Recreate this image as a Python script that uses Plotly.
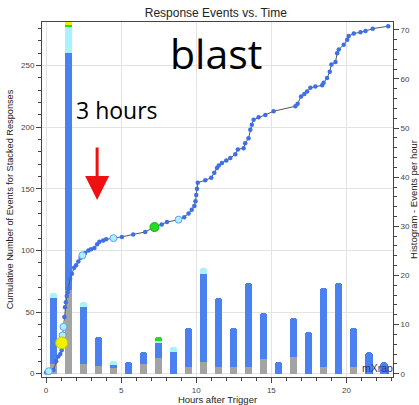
import plotly.graph_objects as go

# ---- histogram (events per hour), bar centres in hours after trigger
bar_hours = [0.5, 1.5, 2.5, 3.5, 4.5, 5.5, 6.5, 7.5, 8.5, 9.5, 10.5, 11.5,
             12.5, 13.5, 14.5, 15.5, 16.5, 17.5, 18.5, 19.5, 20.5, 21.5, 22.5]
gray_vals = [2, 17, 2, 1.5, 1.1, None, 2, 3.3, None, 1.4, 2.3, 1.4,
             1.4, 1.4, 2.9, None, 3.5, None, 1.4, None, 1.4, None, None]
blue_vals = [13.5, 48.3, 11.5, 6, 0.7, 2.4, 2.5, 3, 4.4, 8, 18, 14,
             8, 17, 9.4, 2.3, 7.9, 8.4, 16, 18.4, 8, 4.4, 2.3]
cyan_vals = [1, 5.3, 1, None, 0.8, None, None, 0.3, 1, None, 1.2, None,
             None, None, None, None, None, None, None, None, None, None, None]
green_vals = [None, 0.4, None, None, None, None, None, 0.8, None, None, None, None,
              None, None, None, None, None, None, None, None, None, None, None]
yellow_vals = [None, 0.8, None, None, None, None, None, None, None, None, None, None,
               None, None, None, None, None, None, None, None, None, None, None]

# ---- cumulative number of events
cum_hours = [0.0, 0.18, 0.49, 0.67, 0.82, 0.95, 1.04, 1.1, 1.16, 1.22, 1.26, 1.32,
             1.38, 1.44, 1.49, 1.6, 1.72, 1.87, 2.0, 2.15, 2.3, 2.42, 2.6, 2.82,
             3.0, 3.22, 3.4, 3.55, 3.8, 4.0, 4.49, 5.05, 5.8, 6.6, 7.22, 7.7,
             8.05, 8.82, 9.2, 9.49, 9.7, 9.87, 9.95, 10.0, 10.05, 10.1, 10.6, 11.0,
             11.2, 11.38, 11.5, 11.71, 12.0, 12.27, 12.6, 12.77, 13.15, 13.26, 13.48, 13.6,
             13.7, 13.82, 14.15, 14.6, 15.15, 16.6, 16.75, 16.98, 17.2, 17.38, 17.6, 17.93,
             18.38, 18.48, 18.71, 18.89, 19.0, 19.27, 19.38, 19.49, 19.82, 20.05, 20.15, 20.49,
             20.93, 21.27, 21.75, 22.78]
cum_counts = [1, 2, 3, 10, 14, 16, 19, 31, 38, 46, 54, 58,
              63, 66, 69, 77, 81, 86, 88, 91, 94, 96, 98, 100,
              101, 102, 105, 107, 108, 109, 110, 111, 113, 115, 119, 121,
              123, 125, 127, 130, 133, 136, 140, 145, 150, 155, 157, 159,
              163, 167, 169, 171, 173, 175, 178, 182, 183, 187, 191, 198,
              202, 206, 208, 210, 213, 217, 219, 225, 227, 229, 232, 233,
              234, 236, 240, 245, 251, 253, 260, 263, 267, 271, 274, 276,
              277, 278, 280, 282]

cyan_hours = [0.18, 1.1, 1.16, 2.42, 4.49, 8.82]
cyan_counts = [2, 31, 38, 96, 110, 125]
green_hours = [7.22]
green_counts = [119]
yellow_hours = [1.04]
yellow_counts = [25]

fig = go.Figure()

for vals, col in [(gray_vals, "#a3a3a3"), (blue_vals, "#4a80f0"), (cyan_vals, "#a8f2fb"),
                  (green_vals, "#22dd22"), (yellow_vals, "#f2f200")]:
    fig.add_trace(go.Bar(x=bar_hours, y=vals, marker=dict(color=col, line=dict(width=0)),
                         width=0.47, yaxis="y", showlegend=False))

fig.add_trace(go.Scatter(x=cum_hours, y=cum_counts, mode="lines+markers", yaxis="y2",
                         line=dict(color="#555555", width=1),
                         marker=dict(color="#3d6fe6", size=4.5), showlegend=False))
fig.add_trace(go.Scatter(x=cyan_hours, y=cyan_counts, mode="markers", yaxis="y2",
                         marker=dict(color="#a8f2fb", size=7, line=dict(color="#6a9ef0", width=1)),
                         showlegend=False))
fig.add_trace(go.Scatter(x=green_hours, y=green_counts, mode="markers", yaxis="y2",
                         marker=dict(color="#22dd22", size=9, line=dict(color="#1aa81a", width=1)),
                         showlegend=False))
fig.add_trace(go.Scatter(x=yellow_hours, y=yellow_counts, mode="markers", yaxis="y2",
                         marker=dict(color="#f2f200", size=12, line=dict(color="#c8c800", width=1)),
                         showlegend=False))

tickfont = dict(family="Liberation Sans, Arial, sans-serif", size=8, color="#444444")
fig.update_layout(
    width=419, height=405,
    margin=dict(l=42, r=26, t=22, b=28, autoexpand=False),
    paper_bgcolor="white", plot_bgcolor="white",
    barmode="stack", barcornerradius=4, bargap=0,
    font=dict(family="Liberation Sans, Arial, sans-serif", color="#222222"),
    title=dict(text="Response Events vs. Time", x=0.515, xanchor="center", y=0.968,
               yanchor="middle", font=dict(size=12, color="#222222")),
    xaxis=dict(range=[-0.27, 23.1], dtick=5, tick0=0, ticks="outside", ticklen=5,
               tickcolor="#444", showline=True, linecolor="#444", linewidth=1, mirror=True,
               showgrid=True, gridcolor="#e3e3e3", zeroline=False, tickfont=tickfont,
               automargin=False,
               minor=dict(dtick=1, tick0=0, ticks="outside", ticklen=3, tickcolor="#444", showgrid=False),
               title=dict(text="Hours after Trigger", font=dict(size=9.5), standoff=5)),
    yaxis=dict(side="right", range=[-0.67, 71.6], dtick=10, tick0=0, ticks="outside",
               ticklen=5, tickcolor="#444", showline=True, linecolor="#444", showgrid=False,
               zeroline=False, tickfont=tickfont, automargin=False,
               minor=dict(dtick=2, ticks="outside", ticklen=3, tickcolor="#444", showgrid=False),
               title=dict(text="Histogram - Events per hour", font=dict(size=9.5), standoff=12)),
    yaxis2=dict(side="left", overlaying="y", range=[-2.7, 285.4], dtick=50, tick0=0,
                ticks="outside", ticklen=5, tickcolor="#444", showline=True, linecolor="#444",
                showgrid=True, gridcolor="#e3e3e3", zeroline=False, tickfont=tickfont,
                automargin=False,
                minor=dict(dtick=10, ticks="outside", ticklen=3, tickcolor="#444", showgrid=False),
                title=dict(text="Cumulative Number of Events for Stacked Responses",
                           font=dict(size=9.2), standoff=5)),
)

fig.add_annotation(text="blast", xref="paper", yref="paper", x=0.496, y=0.913,
                   xanchor="center", yanchor="middle",
                   showarrow=False, font=dict(family="Open Sans, sans-serif", size=41, color="black"))
fig.add_annotation(text="3 hours", xref="paper", yref="paper", x=0.215, y=0.752,
                   xanchor="center", yanchor="middle",
                   showarrow=False, font=dict(family="Open Sans, sans-serif", size=23, color="black"))
fig.add_annotation(text="", x=3.4, y=141, xref="x", yref="y2", showarrow=True,
                   ax=0, ay=-54, arrowcolor="#ee1111", arrowwidth=3, arrowhead=2, arrowsize=1.6)
fig.add_annotation(text="mXrap", xref="paper", yref="paper", x=0.955, y=0.025,
                   xanchor="center", yanchor="middle",
                   showarrow=False, font=dict(family="Liberation Sans, sans-serif", size=10.5, color="#2e2e70"))

fig.write_html("out.html", config={"displayModeBar": False},
               post_script="document.body.style.margin='0';document.body.style.overflow='hidden';")
